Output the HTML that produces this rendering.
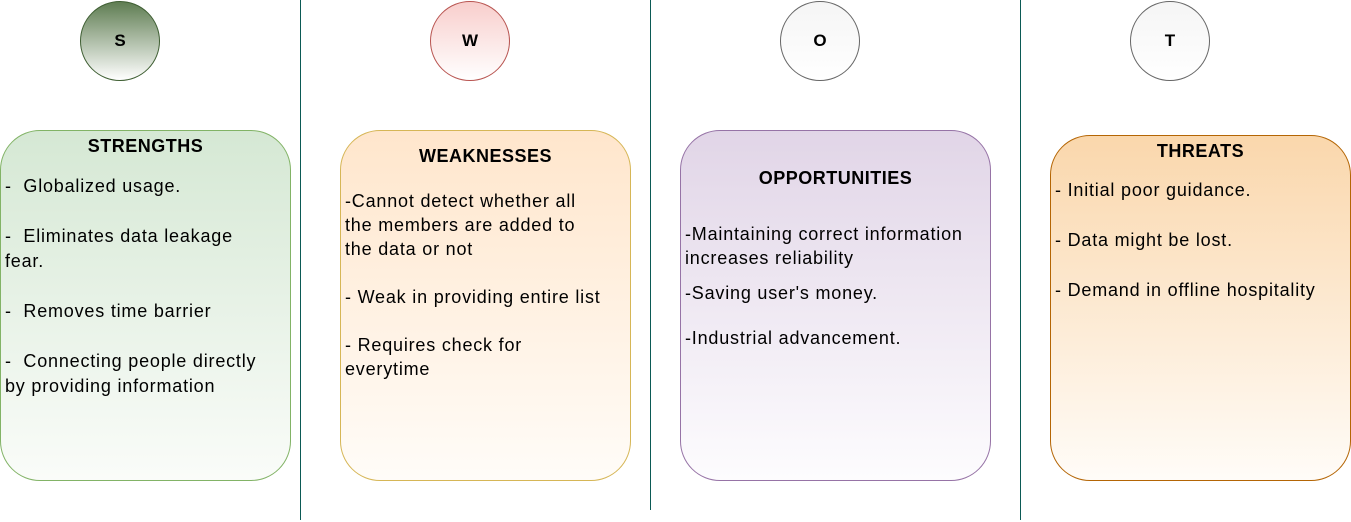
<!DOCTYPE html>
<html><head><style>
body{margin:0;width:1351px;height:522px;background:#fff;position:relative;overflow:hidden;font-family:"Comic Sans MS","Liberation Sans",sans-serif;color:#000}
.c{position:absolute;width:78px;height:78px;border-radius:50%;display:flex;align-items:center;justify-content:center;font-weight:bold;font-size:17px}
.v{position:absolute;top:0;width:1px;background:#0b5a55}
.b{position:absolute;border-radius:40px;box-sizing:border-box;font-size:18px;line-height:25px}
.b h{display:block;font-weight:bold;text-align:center;font-size:18px;letter-spacing:0.5px}
.t{position:absolute;left:4px;white-space:pre;letter-spacing:0.8px}
</style></head><body>
<div class="v" style="left:300px;height:520px"></div>
<div class="v" style="left:650px;height:510px"></div>
<div class="v" style="left:1020px;height:520px"></div>

<div class="c" style="left:80px;top:1px;border:1px solid #3e5e32;background:linear-gradient(#5f7d52,#fff)">S</div>
<div class="c" style="left:430px;top:1px;border:1px solid #b85450;background:linear-gradient(#f8cecc,#fff)">W</div>
<div class="c" style="left:780px;top:1px;border:1px solid #666;background:linear-gradient(#f5f5f5,#fff)">O</div>
<div class="c" style="left:1130px;top:1px;border:1px solid #666;background:linear-gradient(#f5f5f5,#fff)">T</div>

<div class="b" style="left:0;top:130px;width:291px;height:351px;border:1px solid #82b366;background:linear-gradient(#d5e8d4,#fafcf9)">
<h style="position:absolute;top:3px;left:0;right:0">STRENGTHS</h>
<div class="t" style="top:43px">-  Globalized usage.

-  Eliminates data leakage
fear.

-  Removes time barrier

-  Connecting people directly
by providing information</div></div>

<div class="b" style="left:340px;top:130px;width:291px;height:351px;border:1px solid #d6b656;background:linear-gradient(#ffe6cc,#fffcf8)">
<h style="position:absolute;top:13px;left:0;right:0">WEAKNESSES</h>
<div class="t" style="top:58px;line-height:24px">-Cannot detect whether all
the members are added to
the data or not

- Weak in providing entire list

- Requires check for
everytime</div></div>

<div class="b" style="left:680px;top:130px;width:311px;height:351px;border:1px solid #9673a6;background:linear-gradient(#e1d5e7,#fdfcfe)">
<h style="position:absolute;top:35px;left:0;right:0">OPPORTUNITIES</h>
<div class="t" style="top:91px;line-height:24px">-Maintaining correct information
increases reliability</div>
<div class="t" style="top:151px;line-height:22.5px">-Saving user's money.

-Industrial advancement.</div></div>

<div class="b" style="left:1050px;top:135px;width:301px;height:346px;border:1px solid #b46504;background:linear-gradient(#fad7ac,#fffcf8)">
<h style="position:absolute;top:3px;left:0;right:0">THREATS</h>
<div class="t" style="top:42px">- Initial poor guidance.

- Data might be lost.

- Demand in offline hospitality</div></div>
</body></html>
